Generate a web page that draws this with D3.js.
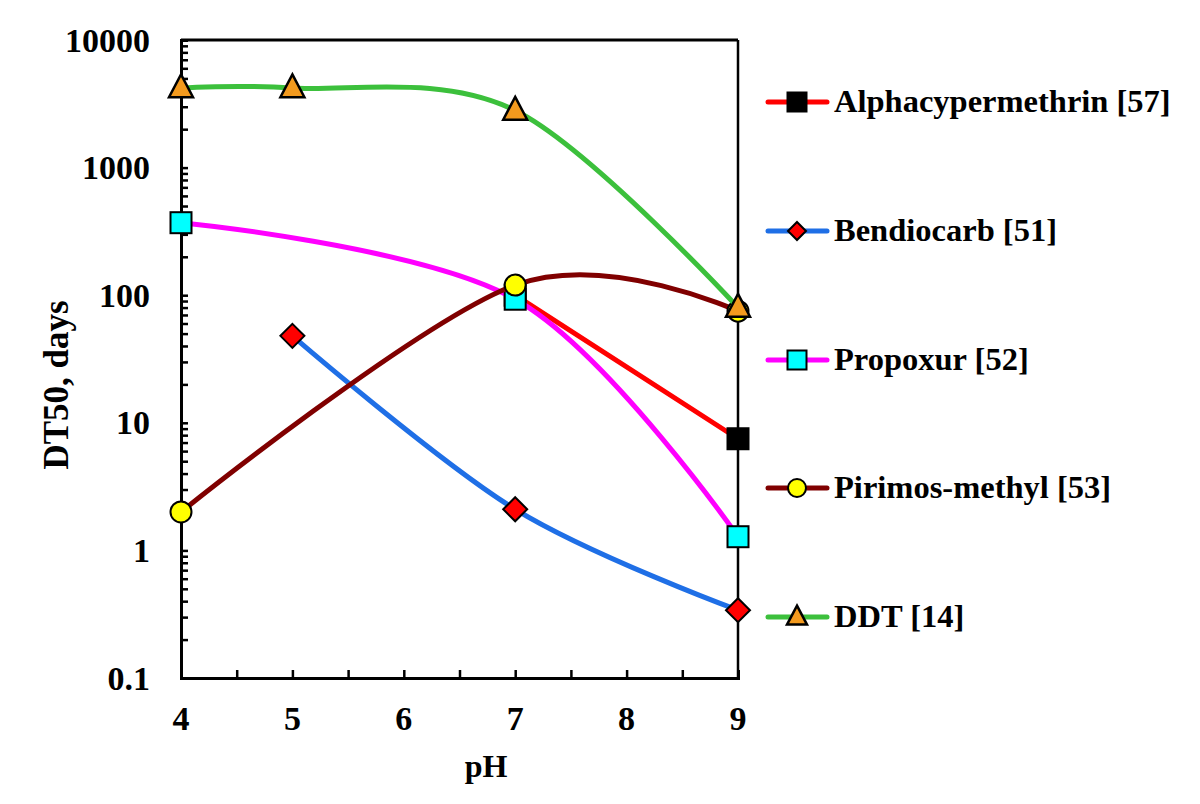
<!DOCTYPE html>
<html>
<head>
<meta charset="utf-8">
<script src="https://cdn.jsdelivr.net/npm/d3@7"></script>
<style>
  html, body { margin: 0; padding: 0; background: #ffffff; }
  svg { display: block; }
  svg text { font-family: "Liberation Serif" !important; font-weight: bold !important; }
</style>
</head>
<body>
<svg id="chart" width="1200" height="804"></svg>
<script>
// ---- data ----
const xTickValues = [4, 5, 6, 7, 8, 9];
const yTickValues = [0.1, 1, 10, 100, 1000, 10000];
const yTickLabels = ["0.1", "1", "10", "100", "1000", "10000"];

const alphaPH = [7, 9];
const alphaDT = [100, 7.5];

const bendioPH = [5, 7, 9];
const bendioDT = [48, 2.1, 0.34];

const propoPH = [4, 7, 9];
const propoDT = [370, 93, 1.28];

const pirimPH = [4, 7, 9];
const pirimDT = [2.0, 120, 75];

const ddtPH = [4, 5, 7, 9];
const ddtDT = [4200, 4200, 2800, 80];

const seriesNames = ["Alphacypermethrin [57]", "Bendiocarb [51]", "Propoxur [52]", "Pirimos-methyl [53]", "DDT [14]"];

(function () {
const FONT = "Liberation Serif";
function styleText(sel, size) {
  return sel.attr("font-family", null).style("font-family", FONT, "important").style("font-weight", "bold")
    .style("font-size", size + "px").style("fill", "#000");
}

const styles = [
  { line: "#ff0000", fill: "#000000", shape: "square" },
  { line: "#1f6fe6", fill: "#ff0000", shape: "diamond" },
  { line: "#ff00ff", fill: "#00ffff", shape: "square" },
  { line: "#800000", fill: "#ffff00", shape: "circle" },
  { line: "#3cc03c", fill: "#f39a1e", shape: "triangle" }
];
const seriesData = [
  [alphaPH, alphaDT], [bendioPH, bendioDT], [propoPH, propoDT], [pirimPH, pirimDT], [ddtPH, ddtDT]
];

const svg = d3.select("#chart");
const pLeft = 181, pRight = 738, pTop = 40, pBottom = 678;

const x = d3.scaleLinear().domain([4, 9]).range([pLeft, pRight]);
const y = d3.scaleLog().domain([0.1, 10000]).range([pBottom, pTop]);

const minorY = [];
for (let e = -1; e < 4; e++) for (let k = 2; k <= 9; k++) minorY.push(k * Math.pow(10, e));
const minorX = d3.range(4.5, 9, 0.5);

// y axis minor ticks
svg.append("g").attr("transform", `translate(${pLeft},0)`)
  .call(d3.axisLeft(y).tickValues(minorY).tickSize(-7).tickFormat(""))
  .call(g => g.select(".domain").remove())
  .call(g => g.selectAll("line").attr("stroke", "#000").attr("stroke-width", 2.5));

// y axis major
const yAx = svg.append("g").attr("transform", `translate(${pLeft},0)`)
  .call(d3.axisLeft(y).tickValues(yTickValues).tickSize(-7).tickFormat(""));
yAx.select(".domain").attr("stroke", "#000").attr("stroke-width", 3);
yAx.selectAll("line").attr("stroke", "#000").attr("stroke-width", 2.5);
styleText(svg.append("g").selectAll("text").data(yTickValues).join("text")
  .attr("x", pLeft - 31).attr("y", d => y(d)).attr("dy", "0.34em")
  .attr("text-anchor", "end")
  .text((d, i) => yTickLabels[i]), 34);

// x axis
const xAx = svg.append("g").attr("transform", `translate(0,${pBottom})`)
  .call(d3.axisBottom(x).tickValues(minorX).tickSize(-8).tickFormat(""));
xAx.select(".domain").attr("stroke", "#000").attr("stroke-width", 3);
xAx.selectAll("line").attr("stroke", "#000").attr("stroke-width", 2.5);
styleText(svg.append("g").selectAll("text").data(xTickValues).join("text")
  .attr("x", d => x(d)).attr("y", pBottom + 52)
  .attr("text-anchor", "middle")
  .text(d => d), 34);

// frame top & right
svg.append("line").attr("x1", pLeft).attr("x2", pRight).attr("y1", pTop).attr("y2", pTop)
  .attr("stroke", "#000").attr("stroke-width", 3);
svg.append("line").attr("x1", pRight).attr("x2", pRight).attr("y1", pTop).attr("y2", pBottom + 1.5)
  .attr("stroke", "#000").attr("stroke-width", 2.5);

// axis titles
styleText(svg.append("text").attr("transform", "translate(68,385) rotate(-90)")
  .attr("text-anchor", "middle").text("DT50, days"), 35);
styleText(svg.append("text").attr("x", 486).attr("y", 777)
  .attr("text-anchor", "middle").text("pH"), 32);

function drawMarker(g, shape, cx, cy, size, fill) {
  const s = size / 2;
  if (shape === "square") {
    g.append("rect").attr("x", cx - s).attr("y", cy - s).attr("width", size).attr("height", size)
      .attr("fill", fill).attr("stroke", "#000").attr("stroke-width", 2);
  } else if (shape === "circle") {
    g.append("circle").attr("cx", cx).attr("cy", cy).attr("r", s)
      .attr("fill", fill).attr("stroke", "#000").attr("stroke-width", 2);
  } else if (shape === "diamond") {
    g.append("path").attr("d", `M${cx},${cy - s}L${cx + s},${cy}L${cx},${cy + s}L${cx - s},${cy}Z`)
      .attr("fill", fill).attr("stroke", "#000").attr("stroke-width", 2);
  } else if (shape === "triangle") {
    const h = size * 0.95;
    g.append("path").attr("d", `M${cx},${cy - h * 0.6}L${cx + s},${cy + h * 0.4}L${cx - s},${cy + h * 0.4}Z`)
      .attr("fill", fill).attr("stroke", "#000").attr("stroke-width", 2.5);
  }
}

const lineGen = d3.line().x(d => x(d[0])).y(d => y(d[1])).curve(d3.curveCardinal.tension(0));
const markerSize = { square: 21, circle: 21, diamond: 24, triangle: 24 };

seriesData.forEach((sd, i) => {
  const pts = sd[0].map((p, j) => [p, sd[1][j]]);
  const g = svg.append("g");
  g.append("path").attr("d", lineGen(pts)).attr("fill", "none")
    .attr("stroke", styles[i].line).attr("stroke-width", 5).attr("stroke-linecap", "round");
  pts.forEach(p => drawMarker(g, styles[i].shape, x(p[0]), y(p[1]), markerSize[styles[i].shape], styles[i].fill));
});

// legend
const legendY = [102, 231, 360, 488, 617];
const legendMarker = { square: 19, circle: 18, diamond: 18, triangle: 20 };
seriesNames.forEach((name, i) => {
  const g = svg.append("g");
  const ly = legendY[i];
  g.append("line").attr("x1", 768).attr("x2", 827).attr("y1", ly).attr("y2", ly)
    .attr("stroke", styles[i].line).attr("stroke-width", 5).attr("stroke-linecap", "round");
  drawMarker(g, styles[i].shape, 797, ly, legendMarker[styles[i].shape], styles[i].fill);
  styleText(g.append("text").attr("x", 834).attr("y", ly + 10).text(name), 32.5);
});
})();
</script>
</body>
</html>
